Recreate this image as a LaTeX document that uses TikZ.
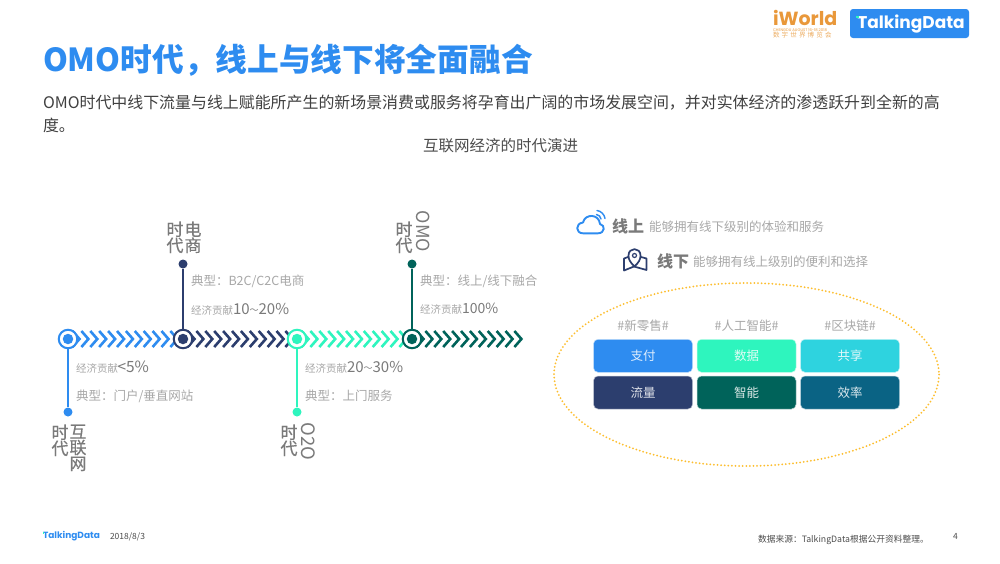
\documentclass[tikz,border=0pt]{standalone}
\usepackage{fontspec}
\setmainfont{Noto Sans CJK SC}
\newfontfamily\logofont{Poppins}
\newfontfamily\erafont[FakeBold=0.5]{Noto Sans CJK SC}
\definecolor{cblue}{HTML}{2E8CF0}
\definecolor{cmint}{HTML}{2EF5BE}
\definecolor{ccyan}{HTML}{2ED3DF}
\definecolor{cnavy}{HTML}{2C3E6E}
\definecolor{cgreen}{HTML}{00635A}
\definecolor{cteal}{HTML}{0A6384}
\definecolor{gLight}{HTML}{A8A8A8}
\definecolor{gMid}{HTML}{7A7A7A}
\definecolor{gold}{HTML}{FDBE2E}
\definecolor{wOrange}{HTML}{E9983A}
\newcommand{\fs}[1]{\fontsize{#1}{#1}\selectfont}
\newcommand{\chevs}[2]{\foreach \k in {0,...,11}{\draw[chev,draw=#2] ({#1+11.5-7+8.9*\k},331) -- ({#1+11.5+8.9*\k},339) -- ({#1+11.5-7+8.9*\k},347);}}
\newcommand{\econ}[1]{{\fs{10.5}\color{gLight}经济贡献}{\fs{15}\color{gMid}#1}}
\newcommand{\tld}{{\fs{9}\raisebox{.5pt}{～}}}
\tikzset{
  txt/.style={inner sep=0,outer sep=0,anchor=west},
  chev/.style={line width=2.6pt},
  hub/.style={circle,fill=white,draw=#1,line width=2pt,minimum size=18.5pt,inner sep=0},
  core/.style={circle,fill=#1,minimum size=10.5pt,inner sep=0},
  enddot/.style={circle,fill=#1,minimum size=9pt,inner sep=0},
  stem/.style={line width=1.1pt,draw=#1},
  note/.style={txt,font=\fs{12.5},text=gLight},
  era/.style={inner sep=0,outer sep=0,anchor=north,align=center,text=gMid,font=\erafont\fontsize{17}{16}\selectfont},
  eralat/.style={inner sep=0,outer sep=0,text=gMid,font=\fs{#1},rotate=-90},
  tile/.style={rectangle,rounded corners=4.5pt,fill=#1,draw=white!70!#1,line width=.5pt,minimum width=99pt,minimum height=33pt,inner sep=0,text=white!85!#1,font=\fs{12.5}},
  tag/.style={inner sep=0,text=gLight,font=\fs{12.5}},
}
\begin{document}
\begin{tikzpicture}[x=1pt,y=-1pt]
\useasboundingbox[fill=white] (0,0) rectangle (1000,563);
% title
\node[txt,text=cblue,font=\fs{31.7}\bfseries] (title) at (43,60) {OMO时代，线上与线下将全面融合};
\node[txt,text=black!75,font=\fs{15.93}] (sub1) at (43,102.5) {OMO时代中线下流量与线上赋能所产生的新场景消费或服务将孕育出广阔的市场发展空间，并对实体经济的渗透跃升到全新的高};
\node[txt,text=black!75,font=\fs{15.93}] (sub2) at (43,125.5) {度。};
\node[inner sep=0,text=black!70,font=\fs{15.5}] (cap) at (500.5,146) {互联网经济的时代演进};
% logos
\node[txt,text=wOrange,font=\logofont\fs{19}\bfseries] (iw) at (773,17.5) {iWorld};
\node[txt,text=wOrange,font=\logofont\fs{3.8}] (iw2) at (773,29.7) {CHENGDU AUGUST 16-18 2018};
\node[txt,text=wOrange!80,font=\fs{6.5}] (iw3) at (773,35.5) {数\,\,字\,\,世\,\,界\,\,博\,\,览\,\,会};
\node[rectangle,rounded corners=3pt,fill=cblue,minimum width=119pt,minimum height=29pt,inner sep=0] (tdbox) at (909.5,23.5) {};
\node[inner sep=0,text=white,font=\logofont\fs{17}\bfseries] (tdtxt) at (911,24) {TalkingData};
\node[rectangle,fill=cmint,minimum size=2.2pt,inner sep=0] (tdmark) at (857.5,17) {};
% chevrons
\chevs{68}{cblue}
\chevs{183}{cnavy}
\chevs{297}{cmint}
\chevs{412}{cgreen}
% hubs
\node[hub=cblue] (h1) at (68,339) {};
\node[hub=cnavy] (h2) at (183,339) {};
\node[hub=cmint] (h3) at (297,339) {};
\node[hub=cgreen] (h4) at (412,339) {};
\node[core=cblue] at (h1) {};
\node[core=cnavy] at (h2) {};
\node[core=cmint] at (h3) {};
\node[core=cgreen] at (h4) {};
% end dots and stems
\node[enddot=cblue] (d1) at (68,412) {};
\node[enddot=cnavy] (d2) at (183,264) {};
\node[enddot=cmint] (d3) at (297,412) {};
\node[enddot=cgreen] (d4) at (412,264) {};
\draw[stem=cblue] (h1) -- (d1);
\draw[stem=cnavy] (h2) -- (d2);
\draw[stem=cmint] (h3) -- (d3);
\draw[stem=cgreen] (h4) -- (d4);
% notes
\node[txt] (e1) at (76,367) {{\fs{10.5}\color{gLight}经济贡献}\hspace{-.5pt}{\fs{15.5}\color{gMid}<5\%}};
\node[note] (n1) at (76,396) {典型：门户/垂直网站};
\node[note] (n2) at (191,281) {典型：B2C/C2C电商};
\node[txt] (e2) at (191,309) {\econ{10\tld 20\%}};
\node[txt] (e3) at (305,367) {\econ{20\tld 30\%}};
\node[note] (n3) at (305,396) {典型：上门服务};
\node[note] (n4) at (420,281) {典型：线上/线下融合};
\node[txt] (e4) at (420,309) {{\fs{10.5}\color{gLight}经济贡献}{\fs{14}\color{gMid}100\%}};
% era labels
\node[era] (a1) at (60,424.5) {时\\代};
\node[era] (a2) at (78,424.5) {互\\联\\网};
\node[era] (b1) at (175,221.5) {时\\代};
\node[era] (b2) at (193,221.5) {电\\商};
\node[era] (c1) at (289,424.5) {时\\代};
\node[eralat=18.5] (c2) at (308,441.5) {O2O};
\node[era] (f1) at (404,221.5) {时\\代};
\node[eralat=18] (f2) at (423,231.5) {OMO};
% cloud icon
\draw[cblue,line width=1.9pt,line cap=round,line join=round] (598,233.3) -- (583,233.3) .. controls (575.5,233.3) and (575,223.5) .. (583,222.5) .. controls (585,213.5) and (599,213.5) .. (600,224) .. controls (605.5,225) and (605,233.3) .. (598,233.3);
\draw[cblue,line width=1.4pt,line cap=round] (596.5,214.5) .. controls (599,215) and (600.5,216.5) .. (601,219);
\draw[cblue,line width=1.4pt,line cap=round] (597,210.5) .. controls (601,211) and (604.5,214.5) .. (605,218.5);
\node[txt,text=gMid,font=\fs{16}\bfseries] (on) at (612,226) {线上};
\node[note] (ont) at (649,227) {能够拥有线下级别的体验和服务};
% map icon
\draw[cnavy,line width=1.7pt,line join=round,line cap=round] (628,257) -- (624,258.5) -- (624,270.5) -- (634,266.5) -- (646.5,270) -- (646.5,258.5) -- (641,257);
\draw[cnavy,line width=1.7pt,line join=round,fill=white] (634.5,266.5) .. controls (630,262) and (628.5,259.5) .. (628.5,255.5) .. controls (628.5,247) and (640.5,247) .. (640.5,255.5) .. controls (640.5,259.5) and (639,262) .. (634.5,266.5) -- cycle;
\node[draw=cnavy,line width=1.2pt,fill=white,circle,minimum size=4pt,inner sep=0] (pin) at (634.5,255.5) {};
\node[txt,text=gMid,font=\fs{16}\bfseries] (off) at (657,261.5) {线下};
\node[note] (offt) at (693,262) {能够拥有线上级别的便利和选择};
% ellipse
\draw[gold,line width=2pt,line cap=round,dash pattern=on 0pt off 3.6pt] (746.5,374.5) ellipse [x radius=192.5,y radius=91.5];
% tiles
\node[tag] (t1) at (643,325.5) {\#新零售\#};
\node[tag] (t2) at (746.5,325.5) {\#人工智能\#};
\node[tag] (t3) at (850,325.5) {\#区块链\#};
\node[tile=cblue] (p1) at (643,355.8) {支付};
\node[tile=cmint] (p2) at (746.5,355.8) {数据};
\node[tile=ccyan] (p3) at (850,355.8) {共享};
\node[tile=cnavy] (q1) at (643,392.5) {流量};
\node[tile=cgreen] (q2) at (746.5,392.5) {智能};
\node[tile=cteal] (q3) at (850,392.5) {效率};
% footer
\node[txt,text=cblue,font=\logofont\fs{9}\bfseries] (fl) at (43,536) {TalkingData};
\node[rectangle,fill=cmint,minimum size=1.2pt,inner sep=0] (flm) at (43.5,533) {};
\node[txt,text=black!70,font=\fs{8.5}] (fd) at (110,536.5) {2018/8/3};
\node[txt,text=black!70,font=\fs{8.75}] (fs) at (758,539.5) {数据来源：TalkingData根据公开资料整理。};
\node[txt,text=black!70,font=\fs{8.5}] (fp) at (953,536) {4};
\end{tikzpicture}
\end{document}
